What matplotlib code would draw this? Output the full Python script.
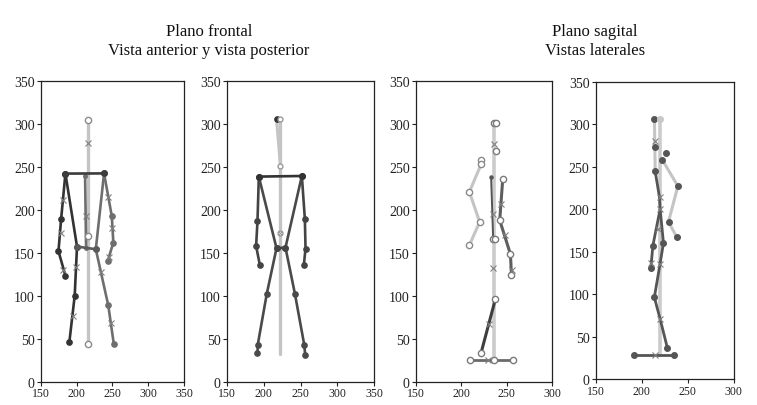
import matplotlib
matplotlib.use("Agg")
import matplotlib.pyplot as plt

# ---------------- data ----------------
titles_left = ["Plano frontal", "Vista anterior y vista posterior"]
titles_right = ["Plano sagital", "Vistas laterales"]
y_ticks = [0, 50, 100, 150, 200, 250, 300, 350]
x_ticks_front = [150, 200, 250, 300, 350]
x_ticks_sag = [150, 200, 250, 300]

# Panel 1 - frontal anterior
p1_vert_x = [216.5, 216.5]; p1_vert_y = [305, 44]
p1_shoulder_x = [184.3, 238.3]; p1_shoulder_y = [242.3, 242.5]
p1_larm_x = [184.3, 178.3, 174.6, 184.3]; p1_larm_y = [242.3, 189.5, 152, 123.6]
p1_lbody_x = [184.3, 200.5, 197.3, 189.9]; p1_lbody_y = [242.3, 157.4, 100.4, 46.9]
p1_hip_x = [200.5, 226.8]; p1_hip_y = [157.4, 154.3]
p1_rbody_x = [238.3, 226.8, 244.2, 252.0]; p1_rbody_y = [242.5, 154.3, 89.0, 43.8]
p1_rarm_x = [238.3, 249.1, 251.3, 243.5]; p1_rarm_y = [242.5, 193.0, 162.1, 140.7]
p1_spine_x = [211.8, 213.2]; p1_spine_y = [239.5, 156.3]
p1_xm_x = [216.5, 213.0, 180.6, 178.0, 181.5, 199.7, 194.5, 234.5, 247.4, 244.3, 249.8, 245.8]
p1_xm_y = [278, 193, 211.6, 173, 130, 134, 76.7, 128, 69, 215.1, 179.5, 145.8]
p1_open_x = [216.5, 216.5, 216.4]; p1_open_y = [305, 44, 170]

# Panel 2 - frontal posterior
p2_vert_x = [222.7, 222.7]; p2_vert_y = [305, 32]
p2_neck_x = [217.3, 222.7]; p2_neck_y = [306.2, 250.8]
p2_shoulder_x = [193.2, 251.8]; p2_shoulder_y = [238.8, 239.5]
p2_larm_x = [193.2, 191.4, 189.5, 194.5]; p2_larm_y = [238.8, 187.2, 158.1, 136.4]
p2_rarm_x = [251.8, 255.9, 256.8, 254.5]; p2_rarm_y = [239.5, 189.5, 155.0, 135.7]
p2_lbody_x = [193.2, 217.3, 204.1, 191.8, 191.4]; p2_lbody_y = [238.8, 155.5, 102.7, 43.4, 33.7]
p2_rbody_x = [251.8, 229.5, 242.3, 255.0, 256.4]; p2_rbody_y = [239.5, 156.2, 102.7, 43.4, 31.0]
p2_hip_x = [217.3, 229.5]; p2_hip_y = [155.5, 156.2]
p2_head_x = [217.3]; p2_head_y = [306.2]
p2_open_x = [222.7, 222.7, 222.7]; p2_open_y = [306, 250.8, 173.6]

# Panel 3 - sagittal (lateral 1)
p3_vert_x = [236.4, 236.4]; p3_vert_y = [301, 25]
p3_larm_x = [221.7, 221.7, 208.8, 220.1, 208.8]; p3_larm_y = [258.1, 253.1, 221.0, 186.0, 159.0]
p3_spine_x = [232.7, 235.0]; p3_spine_y = [238.4, 166.0]
p3_rarm_x = [245.5, 242.2, 254.0, 255.1]; p3_rarm_y = [235.7, 188.0, 148.5, 124.0]
p3_leg_x = [237.4, 221.6]; p3_leg_y = [96.2, 33.4]
p3_foot_x = [209.9, 235.6, 256.6]; p3_foot_y = [25, 25, 25]
p3_open_x = [235.7, 238.2, 238.2, 234.9, 237.5, 237.4, 221.6]
p3_open_y = [301, 301, 268, 166, 166, 96.2, 33.4]
p3_xm_x = [236.4, 234.5, 243.7, 248.0, 255.9, 234.9, 230.0, 229.0]
p3_xm_y = [277.2, 195, 206.6, 171.4, 130.2, 133, 67.1, 25]

# Panel 4 - sagittal (lateral 2)
p4_vert_x = [219.4, 219.4]; p4_vert_y = [306, 28.6]
p4_neck_x = [213.9, 214.7]; p4_neck_y = [306, 244.5]
p4_chainA_x = [214.7, 219.4, 220.1, 223.7, 220.1, 213.8, 220.1, 228.1]
p4_chainA_y = [244.5, 213.9, 200.1, 160.1, 136.2, 96.2, 70.6, 36.1]
p4_chainB_x = [220.1, 216.0, 212.2, 209.9]; p4_chainB_y = [200.1, 178.0, 157.0, 130.3]
p4_arm_x = [222.6, 239.4, 229.2, 238.3]; p4_arm_y = [257.8, 227.2, 185.2, 166.8]
p4_foot_x = [191.1, 214.7, 235.4]; p4_foot_y = [28.3, 28.3, 28.3]
p4_dot_x = [213.9, 214.7, 214.7, 223.7, 213.8, 228.1, 212.2, 209.9, 226.3, 222.6, 239.4, 229.2, 238.3, 191.1, 235.4]
p4_dot_y = [306, 272.8, 244.5, 160.1, 96.2, 36.1, 157.0, 130.3, 265.7, 257.8, 227.2, 185.2, 166.8, 28.3, 28.3]
p4_xm_x = [214.7, 219.4, 220.1, 218.3, 209.9, 220.1, 220.1, 214.7]
p4_xm_y = [280.5, 213.9, 200.1, 176.5, 136.5, 135.3, 70.6, 28.3]

# ---------------- drawing ----------------
plt.rcParams['font.family'] = ['Liberation Serif', 'DejaVu Serif']
fig = plt.figure(figsize=(7.57, 4.06), dpi=100)

LIGHT = '#c4c4c4'
DARK = '#333333'
MID = '#5a5a5a'
GRAY = '#6e6e6e'
LW = 1.9


def chain(ax, xs, ys, color, lw=LW, dots=True, ms=3.8, z=3):
    ax.plot(xs, ys, color=color, lw=lw, solid_capstyle='round', zorder=z,
            marker='o' if dots else None, ms=ms, mfc=color, mec=color)


def xmarks(ax, xs, ys):
    ax.plot(xs, ys, ls='none', marker='x', ms=4.5, mew=0.8, color='#808080', zorder=6)


def openc(ax, xs, ys, ec='#7a7a7a', ms=4.5):
    ax.plot(xs, ys, ls='none', marker='o', ms=ms, mfc='white', mec=ec, mew=1.0, zorder=7)


def style(ax, xt, xr):
    ax.set_xlim(xr)
    ax.set_ylim(0, 350)
    ax.set_xticks(xt)
    ax.set_yticks(y_ticks)
    ax.tick_params(axis='x', labelsize=8.5, length=3, width=0.8, pad=1, colors='#222222')
    ax.tick_params(axis='y', labelsize=10, length=3, width=0.8, pad=1.5, colors='#222222')
    for s in ax.spines.values():
        s.set_linewidth(0.9)
        s.set_color('#222222')


ax1 = fig.add_axes([0.054, 0.057, 0.189, 0.741])
ax2 = fig.add_axes([0.300, 0.057, 0.194, 0.741])
ax3 = fig.add_axes([0.5495, 0.057, 0.180, 0.741])
ax4 = fig.add_axes([0.787, 0.064, 0.182, 0.732])

# Panel 1
chain(ax1, p1_vert_x, p1_vert_y, LIGHT, lw=2.4, dots=False, z=2)
chain(ax1, p1_larm_x, p1_larm_y, DARK)
chain(ax1, p1_lbody_x, p1_lbody_y, DARK)
chain(ax1, p1_rbody_x, p1_rbody_y, GRAY)
chain(ax1, p1_rarm_x, p1_rarm_y, GRAY)
chain(ax1, p1_spine_x, p1_spine_y, GRAY, ms=2.5)
chain(ax1, p1_hip_x, p1_hip_y, MID)
chain(ax1, p1_shoulder_x, p1_shoulder_y, '#3c3c3c')
xmarks(ax1, p1_xm_x, p1_xm_y)
openc(ax1, p1_open_x, p1_open_y, ec='#8a8a8a')
style(ax1, x_ticks_front, (150, 350))

# Panel 2
chain(ax2, p2_vert_x, p2_vert_y, LIGHT, lw=2.4, dots=False, z=2)
chain(ax2, p2_neck_x, p2_neck_y, LIGHT, lw=2.2, dots=False, z=2)
chain(ax2, p2_larm_x, p2_larm_y, '#444444')
chain(ax2, p2_rarm_x, p2_rarm_y, '#444444')
chain(ax2, p2_lbody_x, p2_lbody_y, '#4a4a4a')
chain(ax2, p2_rbody_x, p2_rbody_y, '#4a4a4a')
chain(ax2, p2_hip_x, p2_hip_y, '#444444')
chain(ax2, p2_shoulder_x, p2_shoulder_y, DARK)
chain(ax2, p2_head_x, p2_head_y, DARK)
openc(ax2, p2_open_x, p2_open_y, ec='#9a9a9a', ms=3.5)
ax2.plot(p2_open_x[2:], p2_open_y[2:], ls='none', marker='x', ms=2.5, mew=0.6, color='#8a8a8a', zorder=8)
style(ax2, x_ticks_front, (150, 350))

# Panel 3
chain(ax3, p3_vert_x, p3_vert_y, '#cbcbcb', lw=2.6, dots=False, z=2)
chain(ax3, p3_larm_x, p3_larm_y, LIGHT, lw=2.2, dots=False)
chain(ax3, p3_spine_x, p3_spine_y, '#555555', lw=1.4, dots=False)
ax3.plot(p3_spine_x[:1], p3_spine_y[:1], 'o', ms=2.2, color='#555555', zorder=4)
chain(ax3, p3_rarm_x, p3_rarm_y, '#5e5e5e', lw=2.2, dots=False)
chain(ax3, p3_leg_x, p3_leg_y, '#3e3e3e', lw=2.2, dots=False)
chain(ax3, p3_foot_x, p3_foot_y, '#6a6a6a', lw=2.0, dots=False)
xmarks(ax3, p3_xm_x, p3_xm_y)
openc(ax3, p3_open_x, p3_open_y)
openc(ax3, p3_larm_x, p3_larm_y, ec='#8a8a8a')
openc(ax3, p3_rarm_x, p3_rarm_y)
openc(ax3, p3_foot_x, p3_foot_y)
style(ax3, x_ticks_sag, (150, 300))

# Panel 4
chain(ax4, p4_vert_x, p4_vert_y, '#cbcbcb', lw=2.6, dots=False, z=2)
chain(ax4, p4_neck_x, p4_neck_y, LIGHT, lw=2.2, dots=False, z=2)
chain(ax4, p4_arm_x, p4_arm_y, LIGHT, lw=2.2, dots=False)
chain(ax4, p4_chainA_x, p4_chainA_y, '#555555', lw=2.0, dots=False)
chain(ax4, p4_chainB_x, p4_chainB_y, '#555555', lw=2.0, dots=False)
chain(ax4, p4_foot_x, p4_foot_y, '#555555', lw=2.0, dots=False)
ax4.plot(p4_dot_x, p4_dot_y, ls='none', marker='o', ms=4, color='#555555', zorder=5)
ax4.plot(p4_vert_x[:1], p4_vert_y[:1], ls='none', marker='o', ms=4, color='#c8c8c8', zorder=5)
xmarks(ax4, p4_xm_x, p4_xm_y)
style(ax4, x_ticks_sag, (150, 300))

fig.text(209 / 757, 1 - 32 / 406, titles_left[0], ha='center', va='center', fontsize=12, color='#111111')
fig.text(209 / 757, 1 - 51 / 406, titles_left[1], ha='center', va='center', fontsize=12, color='#111111')
fig.text(595 / 757, 1 - 32 / 406, titles_right[0], ha='center', va='center', fontsize=12, color='#111111')
fig.text(595 / 757, 1 - 51 / 406, titles_right[1], ha='center', va='center', fontsize=12, color='#111111')

fig.savefig('out.png', dpi=100, facecolor='white')
